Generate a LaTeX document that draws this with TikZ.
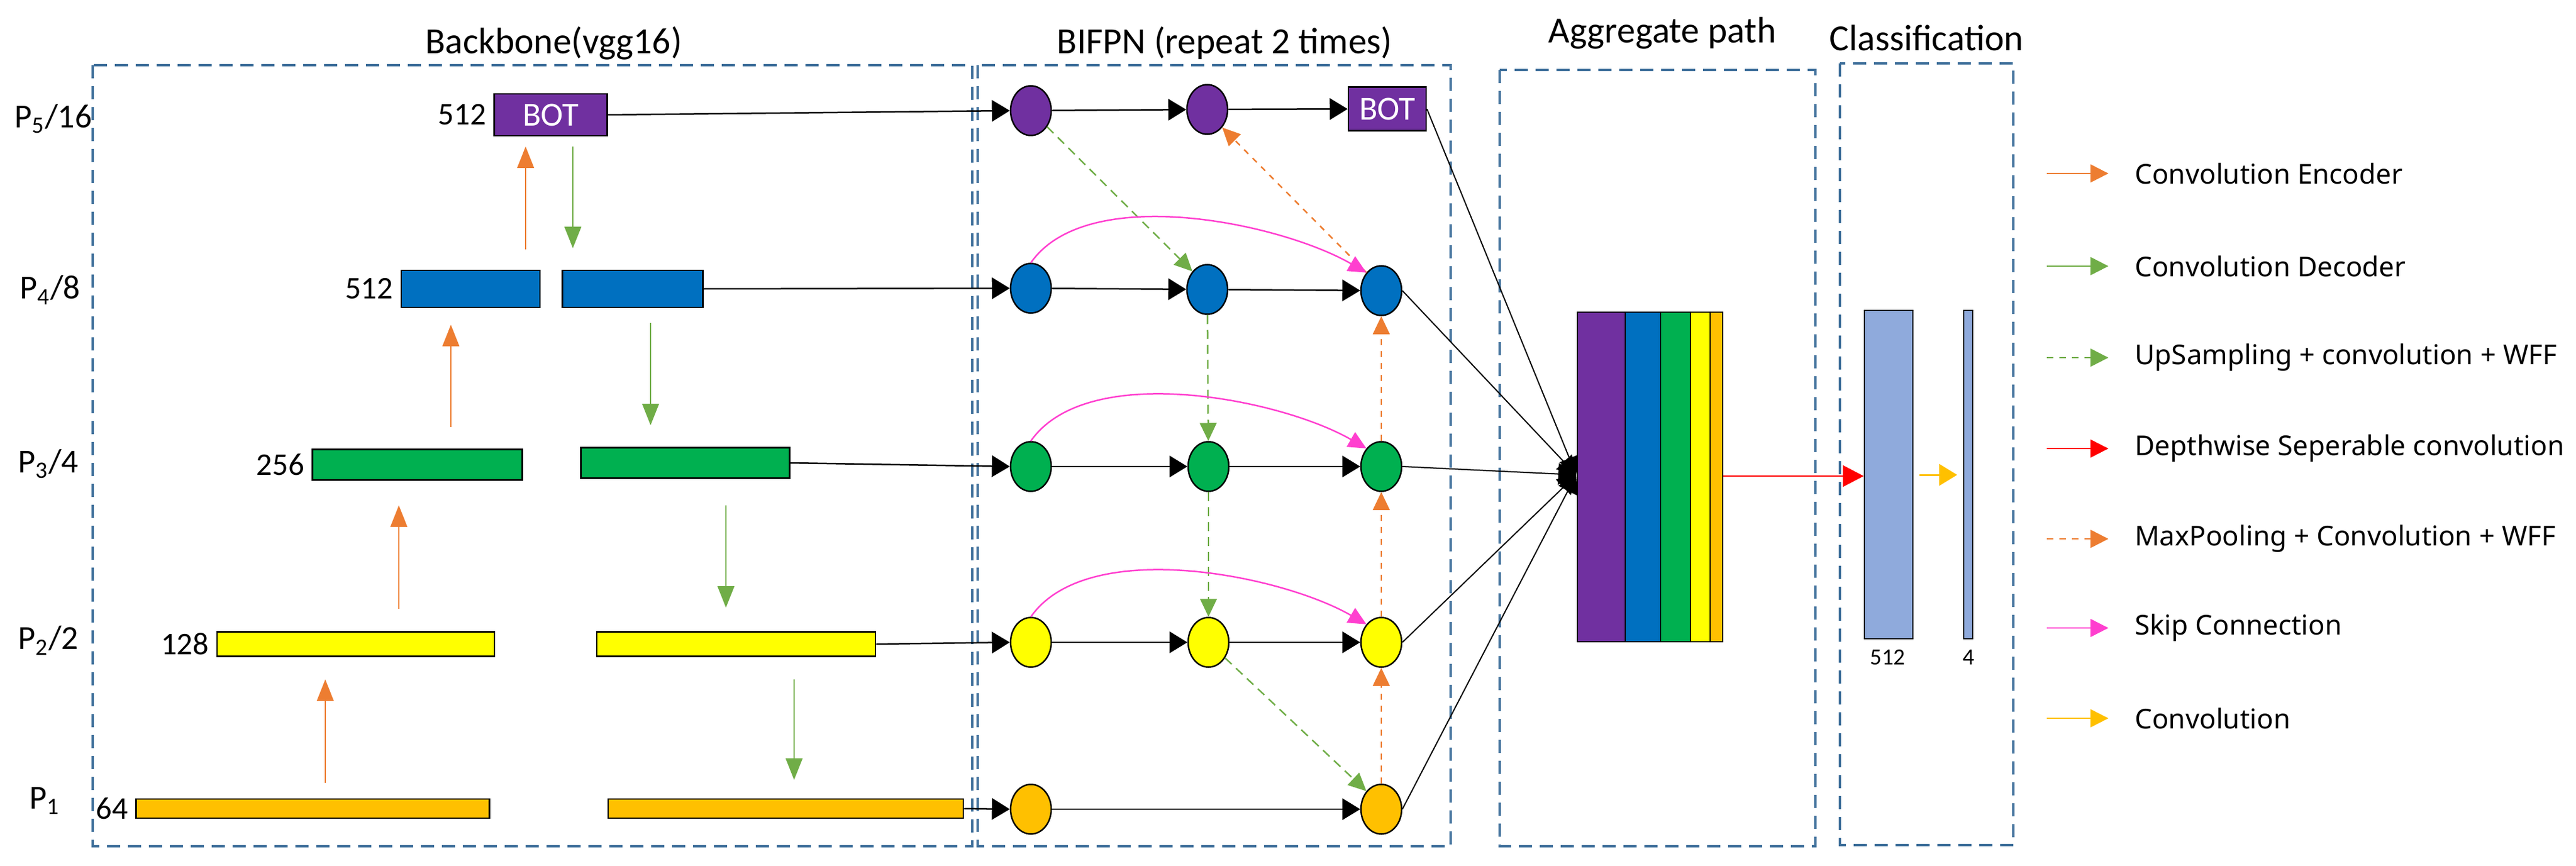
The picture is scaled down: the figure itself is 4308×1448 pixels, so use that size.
\documentclass[tikz,border=0pt]{standalone}
\usepackage{fontspec}
\setmainfont{Carlito}
\newfontfamily\legfont{Noto Sans}
\usetikzlibrary{arrows.meta,shapes.geometric}
\definecolor{cpur}{HTML}{7030A0}
\definecolor{cblu}{HTML}{0070C0}
\definecolor{cgrn}{HTML}{00B050}
\definecolor{cyel}{HTML}{FFFF00}
\definecolor{cora}{HTML}{FFC000}
\definecolor{aora}{HTML}{ED7D31}
\definecolor{agrn}{HTML}{70AD47}
\definecolor{apnk}{HTML}{FF3FCF}
\definecolor{cbox}{HTML}{41719C}
\definecolor{cbar}{HTML}{8FAADC}
\newcommand{\lvl}[2]{P\textsubscript{#1}#2}
\begin{document}
\begin{tikzpicture}[x=0.1mm,y=-0.1mm,
  bar/.style={rectangle,draw=black,line width=0.25mm,inner sep=0pt},
  nd/.style={ellipse,draw=black,line width=0.25mm,minimum width=6.8mm,minimum height=8.3mm,inner sep=0pt},
  frame/.style={draw=cbox,line width=0.35mm,dash pattern=on 2.2mm off 1.3mm},
  title/.style={font=\fontsize{17.5}{20}\selectfont},
  lab/.style={font=\fontsize{15}{17}\selectfont,anchor=east},
  plab/.style={font=\fontsize{16}{18}\selectfont},
  blk/.style={black,line width=0.25mm,-{Triangle[length=3mm,width=3.6mm]}},
  enc/.style={aora,line width=0.25mm,-{Triangle[length=3.6mm,width=2.8mm]}},
  dec/.style={agrn,line width=0.25mm,-{Triangle[length=3.6mm,width=2.8mm]}},
  upd/.style={agrn,line width=0.25mm,dash pattern=on 1.5mm off 1mm,-{Triangle[length=3mm,width=2.8mm]}},
  mpd/.style={aora,line width=0.25mm,dash pattern=on 1mm off 1mm,-{Triangle[length=3mm,width=2.8mm]}},
  skp/.style={apnk,line width=0.25mm,-{Triangle[length=3mm,width=2.8mm]}},
  leg/.style={font=\legfont\fontsize{13}{15}\selectfont,anchor=west}]
\useasboundingbox (0,0) rectangle (4308,1448);
% frames
\draw[frame] (155,109) rectangle (1626,1415);
\draw[frame] (1635,109) rectangle (2426,1415);
\draw[frame] (2508,117) rectangle (3036,1415);
\draw[frame] (3077,106) rectangle (3367,1413);
\node[title] (t1) at (926,72) {Backbone(vgg16)};
\node[title] (t2) at (2048,72) {BIFPN (repeat 2 times)};
\node[title] (t3) at (2780,55) {Aggregate path};
\node[title] (t4) at (3222,63) {Classification};
% level labels
\node[plab] (p5) at (89,199) {\lvl{5}{/16}};
\node[plab] (p4) at (84,485) {\lvl{4}{/8}};
\node[plab] (p3) at (81,776) {\lvl{3}{/4}};
\node[plab] (p2) at (81,1071) {\lvl{2}{/2}};
\node[plab] (p1) at (75,1339) {\lvl{1}{}};
% backbone bars
\node[bar,fill=cpur,minimum width=18.9mm,minimum height=7mm,text=white,font=\fontsize{16}{18}\selectfont] (bot) at (921,192) {BOT};
\node[bar,fill=cblu,minimum width=23.2mm,minimum height=6.2mm] (b4l) at (787,483) {};
\node[bar,fill=cblu,minimum width=23.5mm,minimum height=6.2mm] (b4r) at (1058,483) {};
\node[bar,fill=cgrn,minimum width=35.1mm,minimum height=5.1mm] (b3l) at (698,777) {};
\node[bar,fill=cgrn,minimum width=34.9mm,minimum height=5.1mm] (b3r) at (1146,774) {};
\node[bar,fill=cyel,minimum width=46.4mm,minimum height=4.1mm] (b2l) at (595,1077) {};
\node[bar,fill=cyel,minimum width=46.6mm,minimum height=4.1mm] (b2r) at (1231,1077) {};
\node[bar,fill=cora,minimum width=59.1mm,minimum height=3.2mm] (b1l) at (523,1352) {};
\node[bar,fill=cora,minimum width=59.4mm,minimum height=3.2mm] (b1r) at (1314,1352) {};
\node[lab] (n5) at (bot.west) {512};
\node[lab] (n4) at (b4l.west) {512};
\node[lab] (n3) at (b3l.west) {256};
\node[lab] (n2) at (b2l.west) {128};
\node[lab] (n1) at (b1l.west) {64};
% encoder / decoder arrows
\coordinate (e1a) at (544,1309); \coordinate (e1b) at (544,1136);
\coordinate (e2a) at (667,1018); \coordinate (e2b) at (667,845);
\coordinate (e3a) at (754,714);  \coordinate (e3b) at (754,543);
\coordinate (e4a) at (879,417);  \coordinate (e4b) at (879,245);
\draw[enc] (e1a) -- (e1b); \draw[enc] (e2a) -- (e2b);
\draw[enc] (e3a) -- (e3b); \draw[enc] (e4a) -- (e4b);
\coordinate (d1a) at (958,245);  \coordinate (d1b) at (958,415);
\coordinate (d2a) at (1088,540); \coordinate (d2b) at (1088,711);
\coordinate (d3a) at (1214,845); \coordinate (d3b) at (1214,1016);
\coordinate (d4a) at (1328,1136);\coordinate (d4b) at (1328,1304);
\draw[dec] (d1a) -- (d1b); \draw[dec] (d2a) -- (d2b);
\draw[dec] (d3a) -- (d3b); \draw[dec] (d4a) -- (d4b);
% BiFPN nodes
\node[nd,fill=cpur] (a5) at (1724,185) {};
\node[nd,fill=cpur] (m5) at (2019,183) {};
\node[bar,fill=cpur,minimum width=13mm,minimum height=7.3mm,text=white,font=\fontsize{16}{18}\selectfont] (o5) at (2320,182) {BOT};
\node[nd,fill=cblu] (a4) at (1724,482) {};
\node[nd,fill=cblu] (m4) at (2019,484) {};
\node[nd,fill=cblu] (o4) at (2310,486) {};
\node[nd,fill=cgrn] (a3) at (1724,780) {};
\node[nd,fill=cgrn] (m3) at (2021,780) {};
\node[nd,fill=cgrn] (o3) at (2310,780) {};
\node[nd,fill=cyel] (a2) at (1724,1074) {};
\node[nd,fill=cyel] (m2) at (2021,1074) {};
\node[nd,fill=cyel] (o2) at (2310,1074) {};
\node[nd,fill=cora] (a1) at (1724,1353) {};
\node[nd,fill=cora] (o1) at (2310,1353) {};
% backbone -> BiFPN
\draw[blk] (bot.east) -- (a5.west);
\draw[blk] (b4r.east) -- (a4.west);
\draw[blk] (b3r.east) -- (a3.west);
\draw[blk] (b2r.east) -- (a2.west);
\draw[blk] (b1r.east) -- (a1.west);
% horizontal
\draw[blk] (a5) -- (m5); \draw[blk] (m5) -- (o5);
\draw[blk] (a4) -- (m4); \draw[blk] (m4) -- (o4);
\draw[blk] (a3) -- (m3); \draw[blk] (m3) -- (o3);
\draw[blk] (a2) -- (m2); \draw[blk] (m2) -- (o2);
\draw[blk] (a1) -- (o1);
% top-down
\draw[upd] (a5) -- (m4.north west);
\draw[upd] (m4) -- (m3); \draw[upd] (m3) -- (m2);
\draw[upd] (m2) -- (o1.north west);
% bottom-up
\draw[mpd] (o1) -- (o2); \draw[mpd] (o2) -- (o3); \draw[mpd] (o3) -- (o4);
\draw[mpd] (o4.north west) -- (m5.south east);
% skip
\draw[skp] (a4.north) to[out=55,in=150,looseness=0.75] (o4.north west);
\draw[skp] (a3.north) to[out=55,in=150,looseness=0.75] (o3.north west);
\draw[skp] (a2.north) to[out=55,in=150,looseness=0.75] (o2.north west);
% aggregate
\coordinate (agg) at (2636,794);
\draw[black,line width=0.2mm,-{Triangle[length=3mm,width=3.6mm]}] (o5.east) -- (agg);
\draw[black,line width=0.2mm,-{Triangle[length=3mm,width=3.6mm]}] (o4.east) -- (agg);
\draw[black,line width=0.2mm,-{Triangle[length=3mm,width=3.6mm]}] (o3.east) -- (agg);
\draw[black,line width=0.2mm,-{Triangle[length=3mm,width=3.6mm]}] (o2.east) -- (agg);
\draw[black,line width=0.2mm,-{Triangle[length=3mm,width=3.6mm]}] (o1.east) -- (agg);
\node[bar,fill=cpur,minimum width=8mm,minimum height=55.1mm] (s1) at (2678,797.5) {};
\node[bar,fill=cblu,minimum width=5.9mm,minimum height=55.1mm] (s2) at (2747.5,797.5) {};
\node[bar,fill=cgrn,minimum width=5mm,minimum height=55.1mm] (s3) at (2802,797.5) {};
\node[bar,fill=cyel,minimum width=3.3mm,minimum height=55.1mm] (s4) at (2843.5,797.5) {};
\node[bar,fill=cora,minimum width=2.1mm,minimum height=55.1mm] (s5) at (2870.5,797.5) {};
% classification
\node[bar,fill=cbar,minimum width=8.1mm,minimum height=54.9mm] (c512) at (3158.5,793.5) {};
\node[bar,fill=cbar,minimum width=1.5mm,minimum height=54.9mm] (c4) at (3291.5,793.5) {};
\node[font=\fontsize{11}{13}\selectfont] (l512) at (3157,1099) {512};
\node[font=\fontsize{11}{13}\selectfont] (l4) at (3292,1099) {4};
\draw[red,line width=0.25mm,-{Triangle[length=3.5mm,width=3.6mm]}] (s5.east |- 0,796) -- (c512.west |- 0,796);
\coordinate (ya) at (3210,794); \coordinate (yb) at (3273,794);
\draw[cora,line width=0.3mm,-{Triangle[length=3mm,width=3.6mm]}] (ya) -- (yb);
% legend
\foreach \y/\sty/\col/\txt [count=\i] in {
  290/solid/aora/Convolution Encoder,
  445/solid/agrn/Convolution Decoder,
  598/dashed/agrn/UpSampling + convolution + WFF,
  750/solid/red/Depthwise Seperable convolution,
  901/dashed/aora/MaxPooling + Convolution + WFF,
  1050/solid/apnk/Skip Connection,
  1201/solid/cora/Convolution}{
  \coordinate (la\i) at (3423,\y);
  \coordinate (lb\i) at (3526,\y);
  \draw[\col,line width=0.25mm,\sty,-{Triangle[length=3mm,width=3mm]}] (la\i) -- (lb\i);
  \node[leg] (lt\i) at (3558,\y) {\txt};
}
\end{tikzpicture}
\end{document}
